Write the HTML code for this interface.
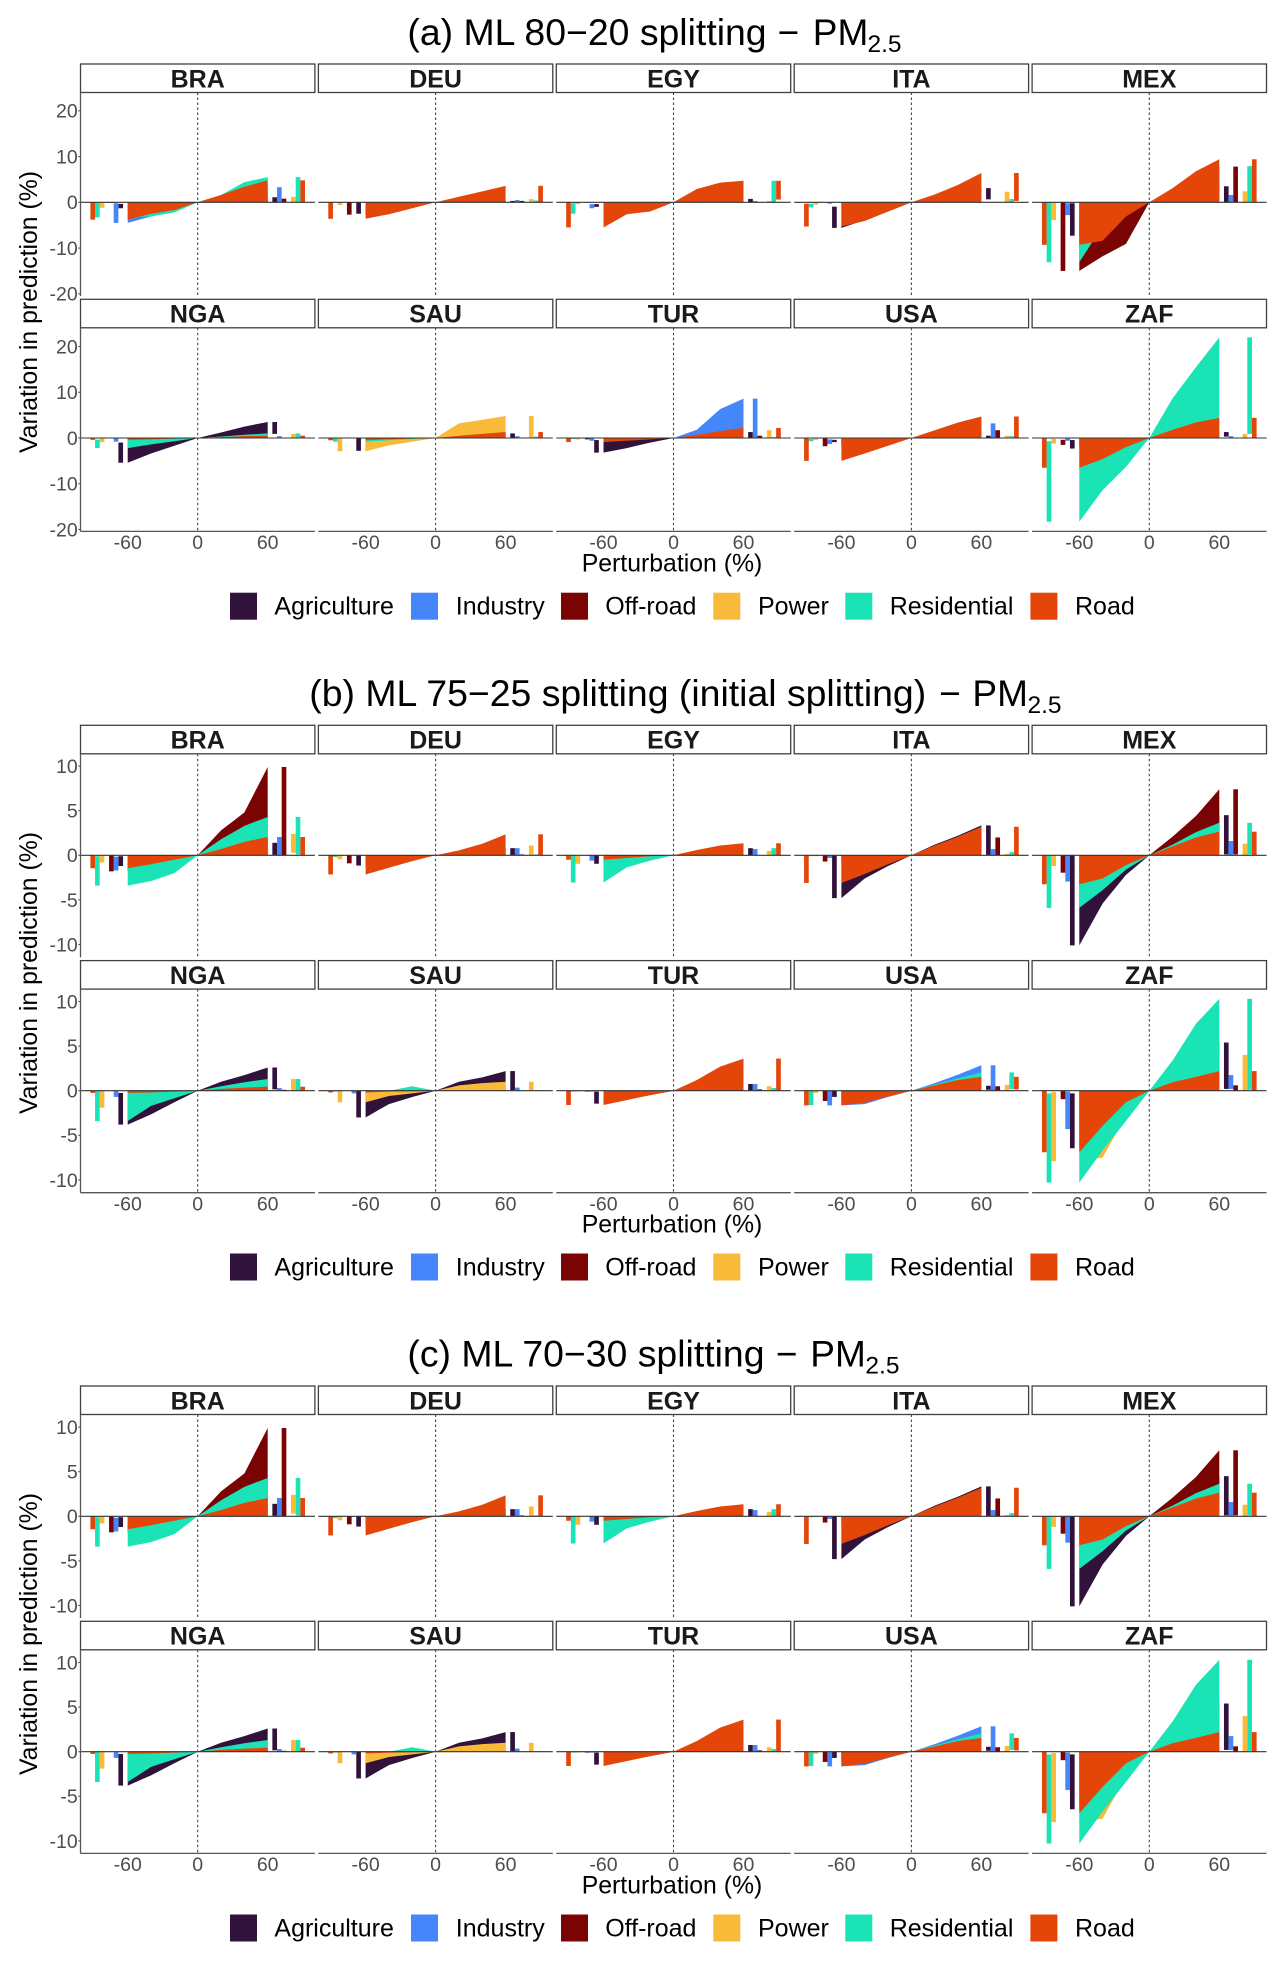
<!DOCTYPE html>
<html lang="en">
<head>
<meta charset="utf-8">
<title>ML splitting sensitivity - PM2.5</title>
<style>
html,body{margin:0;padding:0;background:#fff;width:1285px;height:1961px;overflow:hidden}
svg{display:block;font-family:"Liberation Sans",Arial,sans-serif}
.title{font-size:37.4px;fill:#000}
.pm{font-size:37px;fill:#000}
.sub{font-size:24.5px;fill:#000}
.axt{font-size:24.8px;fill:#000}
.leg{font-size:25px;fill:#000}
</style>
</head>
<body>
<svg id="figure" xmlns="http://www.w3.org/2000/svg" width="1285" height="1961" viewBox="0 0 1285 1961">
<rect x="0" y="0" width="1285" height="1961" fill="#fff"/>

<g>
<text class="title" x="407.4" y="45">(a) ML 80−20 splitting</text>
<text class="pm" x="777.5" y="45">−</text>
<text class="pm" x="812.8" y="45">PM</text>
<text class="sub" x="867.5" y="52">2.5</text>
</g>
<g>
<text class="title" x="309.3" y="706">(b) ML 75−25 splitting (initial splitting)</text>
<text class="pm" x="939" y="706">−</text>
<text class="pm" x="972.4" y="706">PM</text>
<text class="sub" x="1027.5" y="713">2.5</text>
</g>
<g>
<text class="title" x="407.4" y="1366.7">(c) ML 70−30 splitting</text>
<text class="pm" x="775.7" y="1366.7">−</text>
<text class="pm" x="810.3" y="1366.7">PM</text>
<text class="sub" x="865.4" y="1373.7">2.5</text>
</g>

<g id="chart-a"></g>
<g id="chart-b" transform="translate(0,661.3)"></g>
<g id="chart-c" transform="translate(0,1322)"></g>

<text class="axt" transform="translate(37,312) rotate(-90)" text-anchor="middle">Variation in prediction (%)</text>
<text class="axt" transform="translate(37,973) rotate(-90)" text-anchor="middle">Variation in prediction (%)</text>
<text class="axt" transform="translate(37,1634) rotate(-90)" text-anchor="middle">Variation in prediction (%)</text>

<text class="axt" x="672" y="571.7" text-anchor="middle">Perturbation (%)</text>
<text class="axt" x="672" y="1232.7" text-anchor="middle">Perturbation (%)</text>
<text class="axt" x="672" y="1893.7" text-anchor="middle">Perturbation (%)</text>

<g transform="translate(0,592.7)">
<rect x="230" y="0" width="27" height="27" fill="#30123B"/><text class="leg" x="274.4" y="22">Agriculture</text>
<rect x="411" y="0" width="27" height="27" fill="#4686FB"/><text class="leg" x="455.8" y="22">Industry</text>
<rect x="561" y="0" width="27" height="27" fill="#7A0403"/><text class="leg" x="605.2" y="22">Off-road</text>
<rect x="713.3" y="0" width="27" height="27" fill="#FABA39"/><text class="leg" x="758" y="22">Power</text>
<rect x="845.3" y="0" width="27" height="27" fill="#1AE4B6"/><text class="leg" x="889.7" y="22">Residential</text>
<rect x="1030.4" y="0" width="27" height="27" fill="#E4460A"/><text class="leg" x="1075" y="22">Road</text>
</g>
<g transform="translate(0,1253.5)">
<rect x="230" y="0" width="27" height="27" fill="#30123B"/><text class="leg" x="274.4" y="22">Agriculture</text>
<rect x="411" y="0" width="27" height="27" fill="#4686FB"/><text class="leg" x="455.8" y="22">Industry</text>
<rect x="561" y="0" width="27" height="27" fill="#7A0403"/><text class="leg" x="605.2" y="22">Off-road</text>
<rect x="713.3" y="0" width="27" height="27" fill="#FABA39"/><text class="leg" x="758" y="22">Power</text>
<rect x="845.3" y="0" width="27" height="27" fill="#1AE4B6"/><text class="leg" x="889.7" y="22">Residential</text>
<rect x="1030.4" y="0" width="27" height="27" fill="#E4460A"/><text class="leg" x="1075" y="22">Road</text>
</g>
<g transform="translate(0,1914.5)">
<rect x="230" y="0" width="27" height="27" fill="#30123B"/><text class="leg" x="274.4" y="22">Agriculture</text>
<rect x="411" y="0" width="27" height="27" fill="#4686FB"/><text class="leg" x="455.8" y="22">Industry</text>
<rect x="561" y="0" width="27" height="27" fill="#7A0403"/><text class="leg" x="605.2" y="22">Off-road</text>
<rect x="713.3" y="0" width="27" height="27" fill="#FABA39"/><text class="leg" x="758" y="22">Power</text>
<rect x="845.3" y="0" width="27" height="27" fill="#1AE4B6"/><text class="leg" x="889.7" y="22">Residential</text>
<rect x="1030.4" y="0" width="27" height="27" fill="#E4460A"/><text class="leg" x="1075" y="22">Road</text>
</g>
</svg>

<script>
const countries = ['BRA','DEU','EGY','ITA','MEX','NGA','SAU','TUR','USA','ZAF'];
const perturbations = [-60,-40,-20,20,40,60];
const xTicks = [-60,0,60];
const yTicksA = [-20,-10,0,10,20];
const yTicksB = [-10,-5,0,5,10];
const yTicksC = [-10,-5,0,5,10];

// Each row: one country, values at perturbations -60,-40,-20,20,40,60.
const A_agriculture = [[-1.3,-.9,-.4,.3,.7,1.1],[-2.5,-1.7,-.8,.1,.2,.3],[-1,-.6,-.3,.2,.5,.75],[-5.6,-3.9,-2,1,2,3.1],[-7.3,-5,-2.4,1.2,2.4,3.5],[-5.4,-3.4,-1.7,1.2,2.5,3.5],[-2.8,-1.4,-.7,.2,.6,1],[-3.2,-2.2,-1,.4,.9,1.3],[-.9,-.6,-.3,.2,.4,.5],[-2.3,-1.5,-.8,.4,.9,1.3]];
const A_industry = [[-4.5,-3.1,-1.5,1,2.2,3.3],[0,0,0,.2,.3,.5],[-1.3,-.8,-.4,.1,.2,.3],[-.3,-.2,-.1,0,.1,.1],[-2.8,-1.9,-.9,.5,1.1,1.6],[-.8,-.5,-.3,.1,.3,.4],[-.1,-.1,0,.1,.2,.4],[-.6,-.4,-.2,1.8,6.3,8.6],[-1.3,-.9,-.4,1,2.1,3.2],[-.6,-.4,-.2,.1,.3,.4]];
const A_offroad = [[-.1,-.1,0,.2,.5,.8],[-2.7,-1.8,-.9,.1,.2,.3],[0,0,0,0,0,0],[0,0,0,0,0,0],[-15,-11.8,-9.1,2.6,5.5,7.8],[0,0,0,0,.1,.1],[0,0,0,0,0,0],[-.3,-.2,-.1,.1,.3,.5],[-1.8,-1.2,-.6,.5,1.1,1.7],[-1.5,-1,-.5,0,.1,.1]];
const A_power = [[-1.2,-.8,-.4,.4,.8,1.2],[-.6,-.4,-.2,.2,.5,.7],[-.4,-.3,-.1,.1,.2,.3],[-.5,-.3,-.2,.8,1.6,2.3],[-3.9,-2.6,-1.3,.8,1.6,2.4],[-.9,-.6,-.3,.3,.6,.9],[-2.9,-1.6,-.8,3.2,4,4.8],[-.3,-.2,-.1,.6,1.2,1.7],[-.4,-.3,-.1,.2,.3,.5],[-1.2,-.8,-.4,.3,.6,.9]];
const A_residential = [[-3.3,-3.1,-2.2,1.6,4.4,5.5],[-.1,-.1,0,.1,.2,.4],[-2.5,-1.7,-.8,.8,2.5,4.7],[-1.1,-.7,-.4,.2,.5,.7],[-13.1,-5.2,-2.5,2.6,5.6,7.9],[-2.2,-1.4,-.7,.3,.7,1],[-.8,-.5,-.25,.1,.2,.3],[-.2,-.1,-.1,.1,.1,.2],[-.7,-.5,-.2,.1,.3,.4],[-18.3,-11.4,-6.3,8.7,15.5,22]];
const A_road = [[-3.8,-2.5,-1.7,1.6,3.4,4.8],[-3.6,-2.6,-1.3,1.2,2.4,3.6],[-5.5,-2.6,-2,2.9,4.3,4.7],[-5.3,-4.1,-2,1.7,3.8,6.4],[-9.3,-8.4,-3.1,3.1,6.8,9.4],[-.4,-.3,-.15,.2,.4,.5],[-.5,-.3,-.15,.5,.9,1.3],[-.9,-.6,-.3,.7,1.5,2.2],[-5,-3.4,-1.7,1.7,3.4,4.7],[-6.5,-4.6,-2,1.8,3.4,4.4]];

const B_agriculture = [[-1.2,-.8,-.4,.4,.9,1.4],[-1.15,-.8,-.4,.3,.5,.8],[-.95,-.6,-.3,.2,.5,.8],[-4.8,-2.6,-1.2,1.2,2.2,3.35],[-10.1,-5.4,-2.2,.6,2,4.5],[-3.8,-2.65,-1.3,1,1.75,2.6],[-3,-1.5,-.7,1,1.5,2.2],[-1.45,-1,-.5,.3,.5,.75],[-.7,-.5,-.2,.2,.4,.55],[-6.45,-4,-2,2,3.5,5.4]];
const B_industry = [[-1.7,-1.1,-.5,.7,1.4,2.05],[0,0,0,.3,.5,.8],[-.6,-.4,-.2,.2,.5,.7],[-.3,-.2,-.1,.2,.5,.7],[-2.95,-2,-1,.5,1,1.6],[-.7,-.5,-.2,.1,.2,.3],[-.3,-.2,-.1,.1,.2,.35],[-.1,-.1,0,.2,.5,.75],[-1.65,-1.5,-.7,.85,1.8,2.85],[-4.3,-2.9,-1.4,.6,1.2,1.75]];
const B_offroad = [[-1.8,-1.1,-.5,2.8,4.8,9.9],[-.9,-.6,-.3,0,.1,.1],[0,0,0,0,0,0],[-.7,-.5,-.2,.6,1.3,2],[-1.95,-1.3,-.6,2.1,4.4,7.4],[0,0,0,0,.1,.1],[0,0,0,0,0,0],[-.1,-.1,0,0,.1,.15],[-1.15,-.8,-.4,.2,.3,.5],[-.95,-.6,-.3,.2,.4,.6]];
const B_power = [[-.8,-.5,-.3,.8,1.6,2.4],[-.45,-.3,-.1,.4,.7,1.1],[-.95,-.6,-.3,.2,.3,.5],[-.1,-.1,0,.1,.1,.15],[-1.2,-.8,-.4,.4,.9,1.3],[-1.9,-1.3,-.6,.4,.9,1.3],[-1.3,-.6,-.3,.6,.85,1],[-.1,-.1,0,.2,.3,.5],[-.25,-.2,-.1,.2,.4,.65],[-7.9,-7.5,-2.8,1,3,4]];
const B_residential = [[-3.4,-2.9,-2,1.8,3.3,4.3],[-.2,-.1,-.1,0,.1,.1],[-3.05,-1.35,-.6,.2,.5,.8],[-.1,-.1,0,.1,.2,.35],[-5.9,-3.9,-1.6,1.2,2.6,3.65],[-3.4,-1.7,-.85,.5,.95,1.3],[-.1,0,.5,0,0,0],[-.1,0,0,.1,.2,.3],[-1.6,-1.2,-.6,.7,1.4,2.05],[-10.3,-6.7,-3.4,3.4,7.5,10.3]];
const B_road = [[-1.45,-1,-.5,.7,1.5,2.05],[-2.15,-1.4,-.65,.55,1.3,2.35],[-.5,-.3,-.1,.6,1.1,1.35],[-3.1,-2.1,-1,1.1,2.1,3.2],[-3.25,-2.6,-1.1,1,2,2.65],[-.25,-.2,-.1,.2,.35,.45],[-.2,-.1,-.05,0,0,.05],[-1.6,-1.05,-.5,1.2,2.7,3.6],[-1.65,-1.35,-.65,.6,1.2,1.55],[-6.9,-3.95,-1.3,.95,1.55,2.2]];

const C_agriculture = [[-1.2,-.8,-.4,.4,.9,1.4],[-1.15,-.8,-.4,.3,.5,.8],[-.95,-.6,-.3,.2,.5,.8],[-4.8,-2.6,-1.2,1.2,2.2,3.35],[-10.1,-5.4,-2.2,.6,2,4.5],[-3.8,-2.65,-1.3,1,1.75,2.6],[-3,-1.5,-.7,1,1.5,2.2],[-1.45,-1,-.5,.3,.5,.75],[-.7,-.5,-.2,.2,.4,.55],[-6.45,-4,-2,2,3.5,5.4]];
const C_industry = [[-1.7,-1.1,-.5,.7,1.4,2.05],[0,0,0,.3,.5,.8],[-.6,-.4,-.2,.2,.5,.7],[-.3,-.2,-.1,.2,.5,.7],[-2.95,-2,-1,.5,1,1.6],[-.7,-.5,-.2,.1,.2,.3],[-.3,-.2,-.1,.1,.2,.35],[-.1,-.1,0,.2,.5,.75],[-1.65,-1.5,-.7,.85,1.8,2.85],[-4.3,-2.9,-1.4,.6,1.2,1.75]];
const C_offroad = [[-1.8,-1.1,-.5,2.8,4.8,9.9],[-.9,-.6,-.3,0,.1,.1],[0,0,0,0,0,0],[-.7,-.5,-.2,.6,1.3,2],[-1.95,-1.3,-.6,2.1,4.4,7.4],[0,0,0,0,.1,.1],[0,0,0,0,0,0],[-.1,-.1,0,0,.1,.15],[-1.15,-.8,-.4,.2,.3,.5],[-.95,-.6,-.3,.2,.4,.6]];
const C_power = [[-.8,-.5,-.3,.8,1.6,2.4],[-.45,-.3,-.1,.4,.7,1.1],[-.95,-.6,-.3,.2,.3,.5],[-.1,-.1,0,.1,.1,.15],[-1.2,-.8,-.4,.4,.9,1.3],[-1.9,-1.3,-.6,.4,.9,1.3],[-1.3,-.6,-.3,.6,.85,1],[-.1,-.1,0,.2,.3,.5],[-.25,-.2,-.1,.2,.4,.65],[-7.9,-7.5,-2.8,1,3,4]];
const C_residential = [[-3.4,-2.9,-2,1.8,3.3,4.3],[-.2,-.1,-.1,0,.1,.1],[-3.05,-1.35,-.6,.2,.5,.8],[-.1,-.1,0,.1,.2,.35],[-5.9,-3.9,-1.6,1.2,2.6,3.65],[-3.4,-1.7,-.85,.5,.95,1.3],[-.1,0,.5,0,0,0],[-.1,0,0,.1,.2,.3],[-1.6,-1.2,-.6,.7,1.4,2.05],[-10.3,-6.7,-3.4,3.4,7.5,10.3]];
const C_road = [[-1.45,-1,-.5,.7,1.5,2.05],[-2.15,-1.4,-.65,.55,1.3,2.35],[-.5,-.3,-.1,.6,1.1,1.35],[-3.1,-2.1,-1,1.1,2.1,3.2],[-3.25,-2.6,-1.1,1,2,2.65],[-.25,-.2,-.1,.2,.35,.45],[-.2,-.1,-.05,0,0,.05],[-1.6,-1.05,-.5,1.2,2.7,3.6],[-1.65,-1.35,-.65,.6,1.2,1.55],[-6.9,-3.95,-1.3,.95,1.55,2.2]];

// Bars that visibly start away from the zero line: country, sector, side, start value.
const A_barStarts = [['BRA','agriculture',-1,-.35],['BRA','residential',-1,-.1],['BRA','industry',-1,-.2],['EGY','road',1,.6],['EGY','residential',-1,-.2],['EGY','agriculture',-1,-.4],['EGY','industry',-1,-.4],['ITA','agriculture',-1,-.95],['ITA','agriculture',1,.65],['ITA','road',1,.3],['ITA','road',-1,-.3],['ITA','residential',-1,-.3],['MEX','agriculture',-1,-.2],['MEX','industry',-1,-.2],['NGA','agriculture',-1,-1],['NGA','agriculture',1,.9],['NGA','residential',-1,-.35],['SAU','agriculture',-1,-.1],['TUR','agriculture',-1,-.45],['USA','residential',-1,-.2],['USA','industry',-1,-.3],['USA','agriculture',-1,-.4],['ZAF','residential',-1,-.7],['ZAF','residential',1,.9],['ZAF','agriculture',-1,-.45],['ZAF','agriculture',1,.3],['ZAF','offroad',-1,-.4],['ZAF','power',-1,-.2]];
const B_barStarts = [['BRA','industry',-1,-.15],['BRA','agriculture',-1,-.1],['BRA','residential',-1,-.1],['BRA','power',1,.3],['BRA','residential',1,.1],['BRA','agriculture',1,.05],['ITA','agriculture',1,.05],['MEX','agriculture',1,.1],['MEX','offroad',1,.1],['MEX','residential',1,.1],['NGA','agriculture',-1,-.25],['NGA','agriculture',1,.15],['SAU','agriculture',1,.05],['TUR','agriculture',-1,-.1],['USA','residential',1,.2],['USA','road',1,.15],['USA','agriculture',1,.1],['ZAF','residential',-1,-.3],['ZAF','power',-1,-.15],['ZAF','agriculture',-1,-.3],['ZAF','industry',-1,-.1],['ZAF','agriculture',1,.2],['ZAF','industry',1,.2],['ZAF','residential',1,.1]];
const C_barStarts = [['BRA','industry',-1,-.15],['BRA','agriculture',-1,-.1],['BRA','residential',-1,-.1],['BRA','power',1,.3],['BRA','residential',1,.1],['BRA','agriculture',1,.05],['ITA','agriculture',1,.05],['MEX','agriculture',1,.1],['MEX','offroad',1,.1],['MEX','residential',1,.1],['NGA','agriculture',-1,-.25],['NGA','agriculture',1,.15],['SAU','agriculture',1,.05],['TUR','agriculture',-1,-.1],['USA','residential',1,.2],['USA','road',1,.15],['USA','agriculture',1,.1],['ZAF','residential',-1,-.3],['ZAF','power',-1,-.15],['ZAF','agriculture',-1,-.3],['ZAF','industry',-1,-.1],['ZAF','agriculture',1,.2],['ZAF','industry',1,.2],['ZAF','residential',1,.1]];

const sectors = ['agriculture','industry','offroad','power','residential','road'];
const barSlots = [66,70,74,82,86,90];

const sectorColors = {agriculture:'#30123B',industry:'#4686FB',offroad:'#7A0403',power:'#FABA39',residential:'#1AE4B6',road:'#E4460A'};
const SVGNS = 'http://www.w3.org/2000/svg';
const PANEL_X0 = 80.5, PANEL_PITCH = 237.9, PANEL_W = 234.4, UNIT_X = 1.1665, BAR_W = 4;
const STRIP_TOP = [64, 299.3], STRIP_H = 28.5, PANEL_H = 203.6;

const chartA = {id:'a',root:'chart-a',unit:4.575,zero:[202.3,438],ticks:yTicksA,starts:A_barStarts,
  series:{agriculture:A_agriculture,industry:A_industry,offroad:A_offroad,power:A_power,residential:A_residential,road:A_road}};
const chartB = {id:'b',root:'chart-b',unit:8.92,zero:[194,429.4],ticks:yTicksB,starts:B_barStarts,
  series:{agriculture:B_agriculture,industry:B_industry,offroad:B_offroad,power:B_power,residential:B_residential,road:B_road}};
const chartC = {id:'c',root:'chart-c',unit:8.92,zero:[194.3,429.7],ticks:yTicksC,starts:C_barStarts,
  series:{agriculture:C_agriculture,industry:C_industry,offroad:C_offroad,power:C_power,residential:C_residential,road:C_road}};

function node(tag, attrs, parent){
  const el = document.createElementNS(SVGNS, tag);
  for (const k in attrs) el.setAttribute(k, attrs[k]);
  parent.appendChild(el);
  return el;
}

function drawPanel(chart, root, ci){
  const col = ci % 5, row = Math.floor(ci / 5), name = countries[ci];
  const left = PANEL_X0 + col * PANEL_PITCH;
  const right = left + PANEL_W;
  const cx = left + PANEL_W / 2;
  const stripTop = STRIP_TOP[row];
  const top = stripTop + STRIP_H;
  const bottom = top + PANEL_H;
  const zero = chart.zero[row];
  const xs = v => cx + v * UNIT_X;
  const ys = v => zero - v * chart.unit;

  const panel = node('g', {}, root);
  
  

  const strip = node('rect', {x:left,y:stripTop,width:PANEL_W,height:STRIP_H,fill:'#fff',stroke:'#404040','stroke-width':1.3}, panel);
  
  

  const stripText = node('text', {x:cx,y:stripTop+23.4,'text-anchor':'middle','font-size':25,'font-weight':'bold',fill:'#1a1a1a'}, panel);
  stripText.textContent = name;
  
  

  sectors.forEach(function(sector){
    const vals = chart.series[sector][ci];
    const pts = [];
    pts.push(xs(perturbations[0]) + ',' + ys(0));
    perturbations.forEach(function(p, i){
      if (p === 20) pts.push(xs(0) + ',' + ys(0));
      pts.push(xs(p) + ',' + ys(vals[i]));
    });
    pts.push(xs(perturbations[5]) + ',' + ys(0));
    const area = node('polygon', {points:pts.join(' '),fill:sectorColors[sector]}, panel);
    
    
  });

  sectors.forEach(function(sector, si){
    const vals = chart.series[sector][ci];
    [-1, 1].forEach(function(side){
      const value = side < 0 ? vals[0] : vals[5];
      let start = 0;
      chart.starts.forEach(function(s){
        if (s[0] === name && s[1] === sector && s[2] === side) start = s[3];
      });
      const y1 = ys(value), y2 = ys(start);
      const center = side * barSlots[si];
      const bar = node('rect', {x:xs(center - BAR_W / 2),y:Math.min(y1,y2),width:BAR_W*UNIT_X,height:Math.abs(y2-y1),fill:sectorColors[sector]}, panel);
      
      
    });
  });

  const hline = node('line', {x1:left,x2:right,y1:ys(0),y2:ys(0),stroke:'#333','stroke-width':1.1}, panel);
  
  

  const vline = node('line', {x1:xs(0),x2:xs(0),y1:top,y2:bottom,stroke:'#444','stroke-width':1.1,'stroke-dasharray':'2.5 2.5'}, panel);
  
  

  if (col === 0) {
    const yAxis = node('line', {x1:left,x2:left,y1:top,y2:bottom,stroke:'#555','stroke-width':1.3}, panel);
    
    
    chart.ticks.forEach(function(t){
      const mark = node('line', {x1:left-2.2,x2:left,y1:ys(t),y2:ys(t),stroke:'#555','stroke-width':1.1}, panel);
      
      
      const lab = node('text', {x:left-2.8,y:ys(t)+6.9,'text-anchor':'end','font-size':19.5,fill:'#4d4d4d'}, panel);
      lab.textContent = String(t);
      
      
    });
  }
  if (row === 1) {
    const xAxis = node('line', {x1:left,x2:right,y1:bottom,y2:bottom,stroke:'#555','stroke-width':1.3}, panel);
    
    
    xTicks.forEach(function(t){
      const lab = node('text', {x:xs(t),y:bottom+17.7,'text-anchor':'middle','font-size':19.5,fill:'#4d4d4d'}, panel);
      lab.textContent = String(t);
      
      
    });
  }
}

[chartA, chartB, chartC].forEach(function(chart){
  const root = document.getElementById(chart.root);
  countries.forEach(function(_, ci){ drawPanel(chart, root, ci); });
});
</script>
</body>
</html>
